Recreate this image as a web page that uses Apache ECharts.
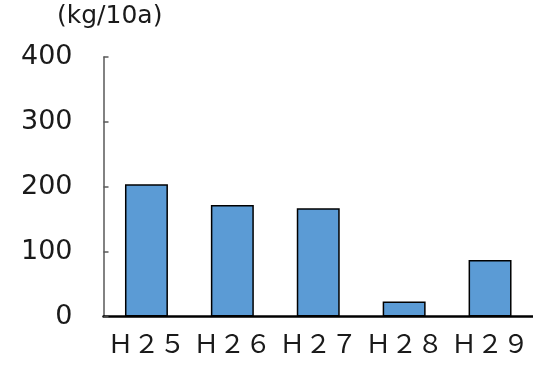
<!DOCTYPE html>
<html>
<head>
<meta charset="utf-8">
<script src="https://cdn.jsdelivr.net/npm/echarts@6/dist/echarts.min.js"></script>
<style>
  html, body { margin: 0; padding: 0; background: #fff; }
  #chart { width: 533px; height: 368px; }
</style>
</head>
<body>
<div id="chart"></div>
<script>
// Yield per 10a by year
const categories = ['Ｈ２５', 'Ｈ２６', 'Ｈ２７', 'Ｈ２８', 'Ｈ２９'];
const yieldValues = [204, 172, 167, 23, 87];
const unitLabel = '(kg/10a)';

const chart = echarts.init(document.getElementById('chart'), null, { renderer: 'canvas' });

chart.setOption({
  animation: false,
  backgroundColor: '#ffffff',
  grid: { left: 103.5, right: 0, top: 57, bottom: 51.5, containLabel: false },
  graphic: [{
    type: 'text',
    left: 57,
    top: 4,
    style: {
      text: unitLabel,
      font: '25px "DejaVu Sans"',
      fill: '#1a1a1a'
    }
  }],
  xAxis: {
    type: 'category',
    data: categories,
    axisLine: { lineStyle: { color: '#000000', width: 2.5 } },
    axisTick: { show: false },
    axisLabel: {
      interval: 0,
      color: '#1a1a1a',
      fontSize: 26,
      fontFamily: '"Noto Sans CJK JP"',
      margin: 14
    }
  },
  yAxis: {
    type: 'value',
    min: 0,
    max: 400,
    interval: 100,
    splitLine: { show: false },
    axisLine: { show: true, lineStyle: { color: '#595959', width: 1.5 } },
    axisTick: { show: true, inside: true, length: 5, lineStyle: { color: '#595959', width: 1.5 } },
    axisLabel: {
      color: '#1a1a1a',
      fontSize: 27,
      fontFamily: '"DejaVu Sans"',
      margin: 31,
      padding: [3, 0, 0, 0]
    }
  },
  series: [{
    type: 'bar',
    data: yieldValues,
    barWidth: '50%',
    itemStyle: {
      color: '#5B9BD5',
      borderColor: '#000000',
      borderWidth: 1.5
    }
  }]
});
</script>
</body>
</html>
